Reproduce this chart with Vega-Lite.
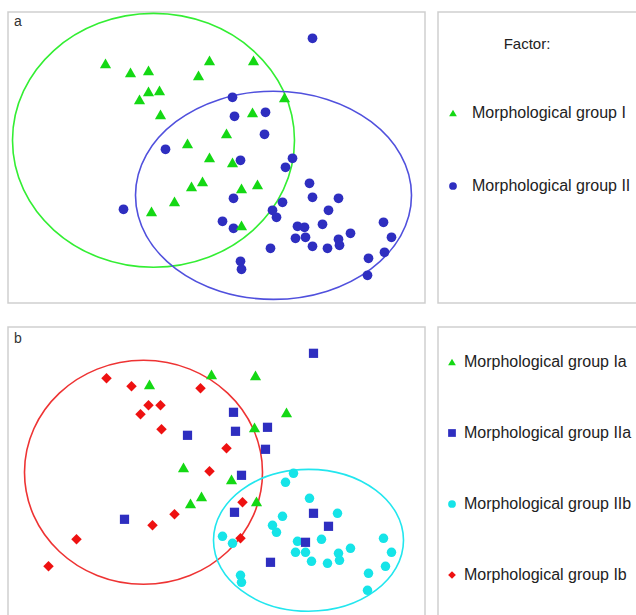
{
  "$schema": "https://vega.github.io/schema/vega-lite/v6.json",
  "padding": {"left": 7, "top": 9, "right": 0, "bottom": 0},
  "background": "white",
  "config": {
    "view": {"stroke": "#cfcfcf", "strokeWidth": 1.5},
    "font": "Liberation Sans",
    "title": {"font": "Liberation Sans", "fontWeight": "normal", "color": "#222222"},
    "text": {"font": "Liberation Sans"}
  },
  "datasets": {
    "a": [
      {"x": 312, "y": 38, "group": "Morphological group II"},
      {"x": 232, "y": 97, "group": "Morphological group II"},
      {"x": 234, "y": 116, "group": "Morphological group II"},
      {"x": 265, "y": 112, "group": "Morphological group II"},
      {"x": 264, "y": 134, "group": "Morphological group II"},
      {"x": 165, "y": 149, "group": "Morphological group II"},
      {"x": 240, "y": 160, "group": "Morphological group II"},
      {"x": 292, "y": 158, "group": "Morphological group II"},
      {"x": 285, "y": 167, "group": "Morphological group II"},
      {"x": 309, "y": 183, "group": "Morphological group II"},
      {"x": 312, "y": 197, "group": "Morphological group II"},
      {"x": 338, "y": 198, "group": "Morphological group II"},
      {"x": 282, "y": 202, "group": "Morphological group II"},
      {"x": 233, "y": 198, "group": "Morphological group II"},
      {"x": 328, "y": 210, "group": "Morphological group II"},
      {"x": 272, "y": 210, "group": "Morphological group II"},
      {"x": 276, "y": 217, "group": "Morphological group II"},
      {"x": 123, "y": 209, "group": "Morphological group II"},
      {"x": 222, "y": 221, "group": "Morphological group II"},
      {"x": 233, "y": 228, "group": "Morphological group II"},
      {"x": 297, "y": 226, "group": "Morphological group II"},
      {"x": 304, "y": 227, "group": "Morphological group II"},
      {"x": 322, "y": 224, "group": "Morphological group II"},
      {"x": 383, "y": 222, "group": "Morphological group II"},
      {"x": 350, "y": 233, "group": "Morphological group II"},
      {"x": 295, "y": 238, "group": "Morphological group II"},
      {"x": 305, "y": 237, "group": "Morphological group II"},
      {"x": 338, "y": 239, "group": "Morphological group II"},
      {"x": 339, "y": 245, "group": "Morphological group II"},
      {"x": 312, "y": 246, "group": "Morphological group II"},
      {"x": 327, "y": 248, "group": "Morphological group II"},
      {"x": 270, "y": 248, "group": "Morphological group II"},
      {"x": 391, "y": 237, "group": "Morphological group II"},
      {"x": 384, "y": 252, "group": "Morphological group II"},
      {"x": 368, "y": 258, "group": "Morphological group II"},
      {"x": 367, "y": 275, "group": "Morphological group II"},
      {"x": 240, "y": 261, "group": "Morphological group II"},
      {"x": 241, "y": 269, "group": "Morphological group II"},
      {"x": 105, "y": 63, "group": "Morphological group I"},
      {"x": 130, "y": 72, "group": "Morphological group I"},
      {"x": 148, "y": 70, "group": "Morphological group I"},
      {"x": 209, "y": 60, "group": "Morphological group I"},
      {"x": 253, "y": 60, "group": "Morphological group I"},
      {"x": 198, "y": 75, "group": "Morphological group I"},
      {"x": 148, "y": 91, "group": "Morphological group I"},
      {"x": 159, "y": 90, "group": "Morphological group I"},
      {"x": 139, "y": 99, "group": "Morphological group I"},
      {"x": 160, "y": 114, "group": "Morphological group I"},
      {"x": 284, "y": 97, "group": "Morphological group I"},
      {"x": 252, "y": 112, "group": "Morphological group I"},
      {"x": 226, "y": 133, "group": "Morphological group I"},
      {"x": 187, "y": 143, "group": "Morphological group I"},
      {"x": 209, "y": 157, "group": "Morphological group I"},
      {"x": 232, "y": 162, "group": "Morphological group I"},
      {"x": 241, "y": 188, "group": "Morphological group I"},
      {"x": 257, "y": 184, "group": "Morphological group I"},
      {"x": 191, "y": 186, "group": "Morphological group I"},
      {"x": 202, "y": 181, "group": "Morphological group I"},
      {"x": 174, "y": 201, "group": "Morphological group I"},
      {"x": 151, "y": 211, "group": "Morphological group I"},
      {"x": 241, "y": 225, "group": "Morphological group I"}
    ],
    "b": [
      {"x": 293, "y": 158, "group": "Morphological group IIb"},
      {"x": 285, "y": 167, "group": "Morphological group IIb"},
      {"x": 309, "y": 183, "group": "Morphological group IIb"},
      {"x": 337, "y": 198, "group": "Morphological group IIb"},
      {"x": 282, "y": 201, "group": "Morphological group IIb"},
      {"x": 272, "y": 210, "group": "Morphological group IIb"},
      {"x": 276, "y": 217, "group": "Morphological group IIb"},
      {"x": 222, "y": 221, "group": "Morphological group IIb"},
      {"x": 232, "y": 228, "group": "Morphological group IIb"},
      {"x": 297, "y": 226, "group": "Morphological group IIb"},
      {"x": 321, "y": 224, "group": "Morphological group IIb"},
      {"x": 383, "y": 223, "group": "Morphological group IIb"},
      {"x": 350, "y": 233, "group": "Morphological group IIb"},
      {"x": 295, "y": 237, "group": "Morphological group IIb"},
      {"x": 305, "y": 237, "group": "Morphological group IIb"},
      {"x": 338, "y": 238, "group": "Morphological group IIb"},
      {"x": 339, "y": 245, "group": "Morphological group IIb"},
      {"x": 311, "y": 246, "group": "Morphological group IIb"},
      {"x": 327, "y": 248, "group": "Morphological group IIb"},
      {"x": 391, "y": 237, "group": "Morphological group IIb"},
      {"x": 385, "y": 251, "group": "Morphological group IIb"},
      {"x": 368, "y": 258, "group": "Morphological group IIb"},
      {"x": 367, "y": 275, "group": "Morphological group IIb"},
      {"x": 240, "y": 260, "group": "Morphological group IIb"},
      {"x": 241, "y": 267, "group": "Morphological group IIb"},
      {"x": 313, "y": 38, "group": "Morphological group IIa"},
      {"x": 233, "y": 97, "group": "Morphological group IIa"},
      {"x": 235, "y": 116, "group": "Morphological group IIa"},
      {"x": 267, "y": 112, "group": "Morphological group IIa"},
      {"x": 187, "y": 120, "group": "Morphological group IIa"},
      {"x": 265, "y": 134, "group": "Morphological group IIa"},
      {"x": 241, "y": 160, "group": "Morphological group IIa"},
      {"x": 234, "y": 197, "group": "Morphological group IIa"},
      {"x": 124, "y": 204, "group": "Morphological group IIa"},
      {"x": 313, "y": 198, "group": "Morphological group IIa"},
      {"x": 328, "y": 211, "group": "Morphological group IIa"},
      {"x": 305, "y": 227, "group": "Morphological group IIa"},
      {"x": 270, "y": 247, "group": "Morphological group IIa"},
      {"x": 106, "y": 63, "group": "Morphological group Ib"},
      {"x": 131, "y": 71, "group": "Morphological group Ib"},
      {"x": 200, "y": 73, "group": "Morphological group Ib"},
      {"x": 148, "y": 90, "group": "Morphological group Ib"},
      {"x": 160, "y": 90, "group": "Morphological group Ib"},
      {"x": 140, "y": 99, "group": "Morphological group Ib"},
      {"x": 161, "y": 114, "group": "Morphological group Ib"},
      {"x": 226, "y": 133, "group": "Morphological group Ib"},
      {"x": 209, "y": 156, "group": "Morphological group Ib"},
      {"x": 242, "y": 187, "group": "Morphological group Ib"},
      {"x": 174, "y": 199, "group": "Morphological group Ib"},
      {"x": 152, "y": 210, "group": "Morphological group Ib"},
      {"x": 76, "y": 224, "group": "Morphological group Ib"},
      {"x": 240, "y": 223, "group": "Morphological group Ib"},
      {"x": 48, "y": 251, "group": "Morphological group Ib"},
      {"x": 149, "y": 69, "group": "Morphological group Ia"},
      {"x": 211, "y": 59, "group": "Morphological group Ia"},
      {"x": 255, "y": 60, "group": "Morphological group Ia"},
      {"x": 286, "y": 97, "group": "Morphological group Ia"},
      {"x": 254, "y": 112, "group": "Morphological group Ia"},
      {"x": 183, "y": 152, "group": "Morphological group Ia"},
      {"x": 231, "y": 164, "group": "Morphological group Ia"},
      {"x": 201, "y": 181, "group": "Morphological group Ia"},
      {"x": 190, "y": 188, "group": "Morphological group Ia"},
      {"x": 256, "y": 186, "group": "Morphological group Ia"}
    ],
    "ellipses": [
      {"x": 153, "y": 140, "group": "Morphological group I"},
      {"x": 273, "y": 195, "group": "Morphological group II"},
      {"x": 143, "y": 157, "group": "Morphological group Ib"},
      {"x": 308, "y": 225, "group": "Morphological group IIb"}
    ],
    "legendA": [
      {"group": "Morphological group I"},
      {"group": "Morphological group II"}
    ],
    "legendB": [
      {"group": "Morphological group Ia"},
      {"group": "Morphological group IIa"},
      {"group": "Morphological group IIb"},
      {"group": "Morphological group Ib"}
    ]
  },
  "spacing": 22,
  "vconcat": [
    {
      "spacing": 11,
      "hconcat": [
        {
          "width": 417,
          "height": 291,
          "title": {"text": "a", "anchor": "start", "orient": "top", "offset": -26, "dx": 6, "fontSize": 14, "baseline": "middle", "color": "#333333"},
          "encoding": {
            "x": {"field": "x", "type": "quantitative", "scale": {"domain": [7.5, 424.5], "nice": false, "zero": false}, "axis": null},
            "y": {"field": "y", "type": "quantitative", "scale": {"domain": [11.7, 302.7], "nice": false, "zero": false, "reverse": true}, "axis": null}
          },
          "layer": [
            {
              "data": {"name": "ellipses"},
              "transform": [{"filter": "datum.group === 'Morphological group I'"}],
              "mark": {"type": "point", "filled": false, "shape": "M-1,0A1,0.9,0,1,0,1,0A1,0.9,0,1,0,-1,0Z", "size": 79524, "stroke": "#33ee33", "strokeWidth": 1.6, "opacity": 1}
            },
            {
              "data": {"name": "ellipses"},
              "transform": [{"filter": "datum.group === 'Morphological group II'"}],
              "mark": {"type": "point", "filled": false, "shape": "M-1,0A1,0.754,0,1,0,1,0A1,0.754,0,1,0,-1,0Z", "size": 76176, "stroke": "#5050dd", "strokeWidth": 1.6, "opacity": 1}
            },
            {
              "data": {"name": "a"},
              "transform": [{"filter": "datum.group === 'Morphological group II'"}],
              "mark": {"type": "point", "filled": true, "size": 95, "opacity": 1},
              "encoding": {
                "color": {"field": "group", "type": "nominal", "legend": null, "scale": {"domain": ["Morphological group I", "Morphological group II", "Morphological group Ia", "Morphological group IIa", "Morphological group IIb", "Morphological group Ib"], "range": ["#14d814", "#2e2ec0", "#14d814", "#2e2ec0", "#16e4e8", "#ee1111"]}},
                "shape": {"field": "group", "type": "nominal", "legend": null, "scale": {"domain": ["Morphological group I", "Morphological group II", "Morphological group Ia", "Morphological group IIa", "Morphological group IIb", "Morphological group Ib"], "range": ["triangle-up", "circle", "triangle-up", "square", "circle", "diamond"]}}
              }
            },
            {
              "data": {"name": "a"},
              "transform": [{"filter": "datum.group === 'Morphological group I'"}],
              "mark": {"type": "point", "filled": true, "size": 125, "opacity": 1},
              "encoding": {
                "color": {"field": "group", "type": "nominal", "legend": null, "scale": {"domain": ["Morphological group I", "Morphological group II", "Morphological group Ia", "Morphological group IIa", "Morphological group IIb", "Morphological group Ib"], "range": ["#14d814", "#2e2ec0", "#14d814", "#2e2ec0", "#16e4e8", "#ee1111"]}},
                "shape": {"field": "group", "type": "nominal", "legend": null, "scale": {"domain": ["Morphological group I", "Morphological group II", "Morphological group Ia", "Morphological group IIa", "Morphological group IIb", "Morphological group Ib"], "range": ["triangle-up", "circle", "triangle-up", "square", "circle", "diamond"]}}
              }
            }
          ]
        },
        {
          "width": 200,
          "height": 291,
          "title": {"text": "Factor:", "anchor": "middle", "orient": "top", "offset": -47, "dx": -11, "fontSize": 15, "baseline": "middle"},
          "data": {"name": "legendA"},
          "encoding": {
            "y": {"field": "group", "type": "nominal", "scale": {"domain": ["Morphological group I", "Morphological group II"], "range": [101, 174], "padding": 0}, "axis": null},
            "x": {"datum": 0, "type": "quantitative", "scale": {"domain": [-15, 185], "nice": false, "zero": false}, "axis": null}
          },
          "layer": [
            {
              "mark": {"type": "point", "filled": true, "size": 60, "opacity": 1},
              "encoding": {
                "color": {"field": "group", "type": "nominal", "legend": null, "scale": {"domain": ["Morphological group I", "Morphological group II", "Morphological group Ia", "Morphological group IIa", "Morphological group IIb", "Morphological group Ib"], "range": ["#14d814", "#2e2ec0", "#14d814", "#2e2ec0", "#16e4e8", "#ee1111"]}},
                "shape": {"field": "group", "type": "nominal", "legend": null, "scale": {"domain": ["Morphological group I", "Morphological group II", "Morphological group Ia", "Morphological group IIa", "Morphological group IIb", "Morphological group Ib"], "range": ["triangle-up", "circle", "triangle-up", "square", "circle", "diamond"]}}
              }
            },
            {
              "mark": {"type": "text", "align": "left", "baseline": "middle", "dx": 19, "fontSize": 16, "color": "#222222"},
              "encoding": {"text": {"field": "group"}}
            }
          ]
        }
      ]
    },
    {
      "spacing": 11,
      "hconcat": [
        {
          "width": 417,
          "height": 291,
          "title": {"text": "b", "anchor": "start", "orient": "top", "offset": -26, "dx": 6, "fontSize": 14, "baseline": "middle", "color": "#333333"},
          "encoding": {
            "x": {"field": "x", "type": "quantitative", "scale": {"domain": [7.5, 424.5], "nice": false, "zero": false}, "axis": null},
            "y": {"field": "y", "type": "quantitative", "scale": {"domain": [11.7, 302.7], "nice": false, "zero": false, "reverse": true}, "axis": null}
          },
          "layer": [
            {
              "data": {"name": "ellipses"},
              "transform": [{"filter": "datum.group === 'Morphological group Ib'"}],
              "mark": {"type": "point", "filled": false, "shape": "M-1,0A1,0.941,0,1,0,1,0A1,0.941,0,1,0,-1,0Z", "size": 56644, "stroke": "#ee3333", "strokeWidth": 1.6, "opacity": 1}
            },
            {
              "data": {"name": "ellipses"},
              "transform": [{"filter": "datum.group === 'Morphological group IIb'"}],
              "mark": {"type": "point", "filled": false, "shape": "M-1,0A1,0.747,0,1,0,1,0A1,0.747,0,1,0,-1,0Z", "size": 36100, "stroke": "#22e6ee", "strokeWidth": 1.6, "opacity": 1}
            },
            {
              "data": {"name": "b"},
              "transform": [{"filter": "datum.group === 'Morphological group IIb'"}],
              "mark": {"type": "point", "filled": true, "size": 90, "opacity": 1},
              "encoding": {
                "color": {"field": "group", "type": "nominal", "legend": null, "scale": {"domain": ["Morphological group I", "Morphological group II", "Morphological group Ia", "Morphological group IIa", "Morphological group IIb", "Morphological group Ib"], "range": ["#14d814", "#2e2ec0", "#14d814", "#2e2ec0", "#16e4e8", "#ee1111"]}},
                "shape": {"field": "group", "type": "nominal", "legend": null, "scale": {"domain": ["Morphological group I", "Morphological group II", "Morphological group Ia", "Morphological group IIa", "Morphological group IIb", "Morphological group Ib"], "range": ["triangle-up", "circle", "triangle-up", "square", "circle", "diamond"]}}
              }
            },
            {
              "data": {"name": "b"},
              "transform": [{"filter": "datum.group === 'Morphological group IIa'"}],
              "mark": {"type": "point", "filled": true, "size": 85, "opacity": 1},
              "encoding": {
                "color": {"field": "group", "type": "nominal", "legend": null, "scale": {"domain": ["Morphological group I", "Morphological group II", "Morphological group Ia", "Morphological group IIa", "Morphological group IIb", "Morphological group Ib"], "range": ["#14d814", "#2e2ec0", "#14d814", "#2e2ec0", "#16e4e8", "#ee1111"]}},
                "shape": {"field": "group", "type": "nominal", "legend": null, "scale": {"domain": ["Morphological group I", "Morphological group II", "Morphological group Ia", "Morphological group IIa", "Morphological group IIb", "Morphological group Ib"], "range": ["triangle-up", "circle", "triangle-up", "square", "circle", "diamond"]}}
              }
            },
            {
              "data": {"name": "b"},
              "transform": [{"filter": "datum.group === 'Morphological group Ib'"}],
              "mark": {"type": "point", "filled": true, "size": 110, "opacity": 1},
              "encoding": {
                "color": {"field": "group", "type": "nominal", "legend": null, "scale": {"domain": ["Morphological group I", "Morphological group II", "Morphological group Ia", "Morphological group IIa", "Morphological group IIb", "Morphological group Ib"], "range": ["#14d814", "#2e2ec0", "#14d814", "#2e2ec0", "#16e4e8", "#ee1111"]}},
                "shape": {"field": "group", "type": "nominal", "legend": null, "scale": {"domain": ["Morphological group I", "Morphological group II", "Morphological group Ia", "Morphological group IIa", "Morphological group IIb", "Morphological group Ib"], "range": ["triangle-up", "circle", "triangle-up", "square", "circle", "diamond"]}}
              }
            },
            {
              "data": {"name": "b"},
              "transform": [{"filter": "datum.group === 'Morphological group Ia'"}],
              "mark": {"type": "point", "filled": true, "size": 125, "opacity": 1},
              "encoding": {
                "color": {"field": "group", "type": "nominal", "legend": null, "scale": {"domain": ["Morphological group I", "Morphological group II", "Morphological group Ia", "Morphological group IIa", "Morphological group IIb", "Morphological group Ib"], "range": ["#14d814", "#2e2ec0", "#14d814", "#2e2ec0", "#16e4e8", "#ee1111"]}},
                "shape": {"field": "group", "type": "nominal", "legend": null, "scale": {"domain": ["Morphological group I", "Morphological group II", "Morphological group Ia", "Morphological group IIa", "Morphological group IIb", "Morphological group Ib"], "range": ["triangle-up", "circle", "triangle-up", "square", "circle", "diamond"]}}
              }
            }
          ]
        },
        {
          "width": 200,
          "height": 291,
          "data": {"name": "legendB"},
          "encoding": {
            "y": {"field": "group", "type": "nominal", "scale": {"domain": ["Morphological group Ia", "Morphological group IIa", "Morphological group IIb", "Morphological group Ib"], "range": [35, 248], "padding": 0}, "axis": null},
            "x": {"datum": 0, "type": "quantitative", "scale": {"domain": [-14, 186], "nice": false, "zero": false}, "axis": null}
          },
          "layer": [
            {
              "mark": {"type": "point", "filled": true, "size": 60, "opacity": 1},
              "encoding": {
                "color": {"field": "group", "type": "nominal", "legend": null, "scale": {"domain": ["Morphological group I", "Morphological group II", "Morphological group Ia", "Morphological group IIa", "Morphological group IIb", "Morphological group Ib"], "range": ["#14d814", "#2e2ec0", "#14d814", "#2e2ec0", "#16e4e8", "#ee1111"]}},
                "shape": {"field": "group", "type": "nominal", "legend": null, "scale": {"domain": ["Morphological group I", "Morphological group II", "Morphological group Ia", "Morphological group IIa", "Morphological group IIb", "Morphological group Ib"], "range": ["triangle-up", "circle", "triangle-up", "square", "circle", "diamond"]}}
              }
            },
            {
              "mark": {"type": "text", "align": "left", "baseline": "middle", "dx": 12, "fontSize": 16, "color": "#222222"},
              "encoding": {"text": {"field": "group"}}
            }
          ]
        }
      ]
    }
  ]
}
